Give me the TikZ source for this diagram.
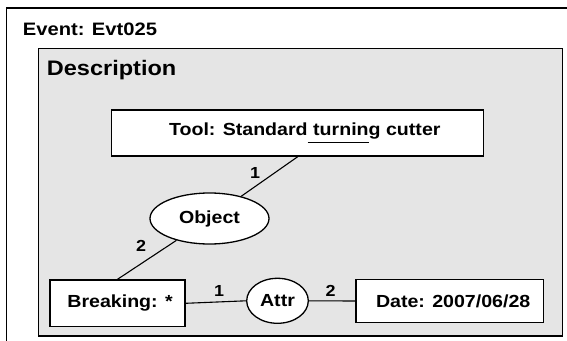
\documentclass[tikz,border=0pt]{standalone}
\usepackage{fontspec}
\setmainfont[FakeStretch=1.12]{Liberation Sans}
\usetikzlibrary{shapes.geometric}
\definecolor{panelgray}{gray}{0.90}
\tikzset{
  frame/.style={draw=black, line width=1.5pt},
  box/.style={draw=black, fill=white, line width=1.3pt, rectangle, inner sep=0pt,
    font=\fontsize{17.5}{20}\selectfont\bfseries},
  oval/.style={draw=black, fill=white, line width=1.3pt, ellipse, inner sep=0pt,
    font=\fontsize{17.5}{20}\selectfont\bfseries},
  conn/.style={draw=black, line width=1.1pt},
  lbl/.style={inner sep=0pt, font=\fontsize{16}{18}\selectfont\bfseries},
  title/.style={inner sep=0pt, anchor=base west}
}
\begin{document}
\begin{tikzpicture}[x=1pt, y=-1pt]
\useasboundingbox (0,0) rectangle (567,340);
\clip (0,0) rectangle (567,340);
% outer frame
\draw[frame, fill=white] (6.5,8) rectangle (600,380);
\node[title, font=\fontsize{18}{21}\selectfont\bfseries] (evt) at (22.7,35) {Event: Evt025};
% inner panel
\draw[frame, fill=panelgray] (38.5,48.5) rectangle (562.5,336);
\node[title, font=\fontsize{21}{24}\selectfont\bfseries] (desc) at (46.7,75) {Description};
% nodes
\node[box, minimum width=372pt, minimum height=46pt] (tool) at (297.8,133)
  {\kern14pt Tool: Standard\rlap{\rule[-7pt]{61pt}{1.1pt}} turning cutter};
\node[oval, minimum width=119pt, minimum height=51pt] (obj) at (209.5,218.5) {Object};
\node[box, minimum width=135pt, minimum height=46.7pt] (brk) at (117.5,303.3)
  {\kern5pt Breaking: *};
\node[oval, minimum width=61.6pt, minimum height=45pt] (attr) at (277.5,300.8) {Attr};
\node[box, minimum width=187.3pt, minimum height=43.4pt] (date) at (449.7,301)
  {\kern7pt Date: 2007/06/28};
% connectors
\draw[conn] (tool.south) -- (obj);
\draw[conn] (brk.north) -- (obj);
\draw[conn] (brk.east) -- (attr.west);
\draw[conn] (attr.east) -- (date.west);
% labels
\node[lbl] (l1) at (255,173) {1};
\node[lbl] (l2) at (141,246) {2};
\node[lbl] (l3) at (219,291) {1};
\node[lbl] (l4) at (330.7,290.7) {2};
\end{tikzpicture}
\end{document}
